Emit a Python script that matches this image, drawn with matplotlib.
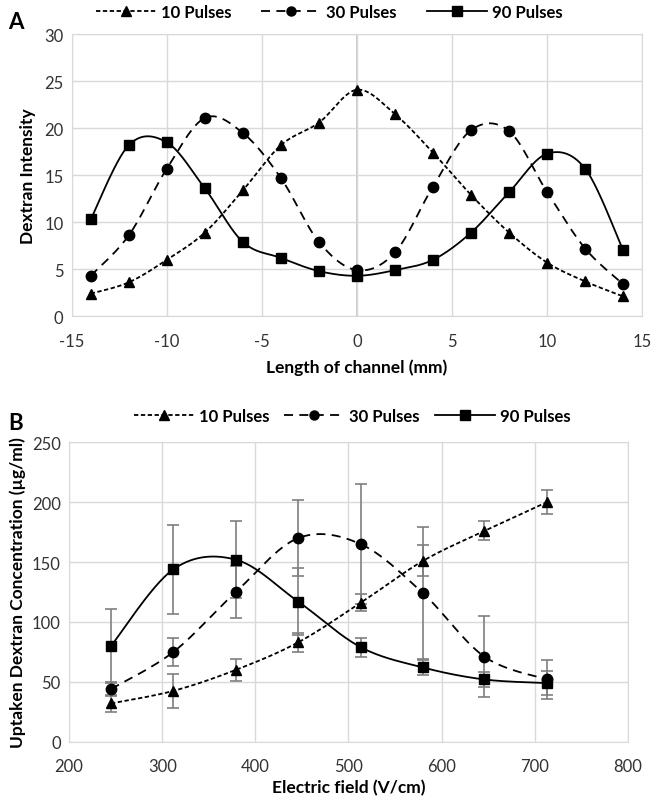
import numpy as np
import matplotlib.pyplot as plt

plt.rcParams['font.family'] = ['Lato', 'DejaVu Sans']
plt.rcParams['axes.unicode_minus'] = False

# Panel A: intensity along the channel
length_mm = [-14, -12, -10, -8, -6, -4, -2, 0, 2, 4, 6, 8, 10, 12, 14]
a_10 = [2.4, 3.6, 6.0, 8.9, 13.4, 18.2, 20.6, 24.1, 21.5, 17.4, 12.9, 8.9, 5.7, 3.7, 2.1]
a_30 = [4.3, 8.6, 15.7, 21.1, 19.5, 14.7, 7.9, 4.9, 6.8, 13.8, 19.8, 19.7, 13.2, 7.2, 3.4]
a_90 = [10.3, 18.2, 18.5, 13.6, 7.9, 6.2, 4.8, 4.3, 4.9, 6.0, 8.9, 13.2, 17.3, 15.7, 7.0]

# Panel B: uptake vs electric field
field = [245, 312, 379, 446, 513, 580, 646, 713]
b_10 = [32, 42.5, 60, 83, 116, 151, 176, 200]
b_10_err = [7, 14, 9, 8, 7, 13, 8, 10]
b_30 = [44, 75, 125, 170, 165, 124, 71, 52]
b_30_err = [6, 12, 22, 32, 50, 55, 34, 16]
b_90 = [80, 144, 152, 117, 79, 62, 52, 49]
b_90_err = [31, 37, 32, 28, 8, 6, 6, 10]

labels = ['10 Pulses', '30 Pulses', '90 Pulses']
markers = ['^', 'o', 's']
dashes = [(2.4, 1.4), (5, 3.5), None]


def smooth(x, y, n=30):
    # excel-like bezier smoothing
    p = np.column_stack([x, y]).astype(float)
    pts = np.vstack([p[0], p, p[-1]])
    out = []
    t = np.linspace(0, 1, n)[:, None]
    for i in range(1, len(pts) - 2):
        p0, p1, p2, p3 = pts[i - 1], pts[i], pts[i + 1], pts[i + 2]
        c1 = p1 + (p2 - p0) / 6
        c2 = p2 - (p3 - p1) / 6
        seg = ((1 - t) ** 3) * p1 + 3 * ((1 - t) ** 2) * t * c1 + 3 * (1 - t) * t ** 2 * c2 + t ** 3 * p2
        out.append(seg)
    out = np.vstack(out)
    return out[:, 0], out[:, 1]


def style_ax(ax):
    ax.grid(True, color='#d9d9d9', linewidth=1)
    ax.set_axisbelow(True)
    for s in ax.spines.values():
        s.set_color('#d9d9d9')
    ax.tick_params(length=0, labelsize=12, colors='#333333', pad=6)
    ax.tick_params(axis='x', pad=12)


def draw_series(ax, x, y, m, d, lab):
    sx, sy = smooth(x, y)
    line, = ax.plot(sx, sy, color='black', lw=1.3)
    if d is not None:
        line.set_dashes(d)
    ax.plot(x, y, linestyle='none', marker=m, color='black', ms=7 if m != 'o' else 7.5)
    # legend proxy
    h, = ax.plot([], [], color='black', lw=1.3, marker=m, ms=6.5, label=lab)
    if d is not None:
        h.set_dashes(d)
    return h


fig = plt.figure(figsize=(6.52, 8.03), dpi=100)

axA = fig.add_axes([0.110, 0.605, 0.875, 0.351])
style_ax(axA)
axA.axvline(0, color='#bfbfbf', lw=1.2, zorder=0.5)
hs = []
for y, m, d, lab in zip([a_10, a_30, a_90], markers, dashes, labels):
    hs.append(draw_series(axA, length_mm, y, m, d, lab))
axA.set_xlim(-15, 15)
axA.set_ylim(0, 30)
axA.set_xticks(range(-15, 16, 5))
axA.set_yticks(range(0, 31, 5))
axA.set_xlabel('Length of channel (mm)', fontsize=12.5, fontweight='bold', labelpad=7)
axA.set_ylabel('Dextran Intensity', fontsize=12.5, fontweight='bold', labelpad=6)
fig.legend(handles=hs, loc='center', bbox_to_anchor=(0.505, 0.984), ncol=3, frameon=False,
           handlelength=3.6, columnspacing=1.8, handletextpad=0.3,
           prop={'weight': 'bold', 'size': 12})
fig.text(0.012, 0.972, 'A', fontsize=16, fontweight='bold', va='center')

axB = fig.add_axes([0.106, 0.075, 0.857, 0.373])
style_ax(axB)
hs = []
for y, e, m, d, lab in zip([b_10, b_30, b_90], [b_10_err, b_30_err, b_90_err],
                           markers, dashes, labels):
    axB.errorbar(field, y, yerr=e, fmt='none', ecolor='#7f7f7f', elinewidth=1.2,
                 capsize=4, capthick=1.2, zorder=1)
    hs.append(draw_series(axB, field, y, m, d, lab))
axB.set_xlim(200, 800)
axB.set_ylim(0, 250)
axB.set_xticks(range(200, 801, 100))
axB.set_yticks(range(0, 251, 50))
axB.set_xlabel('Electric field (V/cm)', fontsize=12.5, fontweight='bold', labelpad=3)
axB.set_ylabel('Uptaken Dextran Concentration (\u00b5g/ml)', fontsize=12.5, fontweight='bold', labelpad=4)
fig.legend(handles=hs, loc='center', bbox_to_anchor=(0.54, 0.481), ncol=3, frameon=False,
           handlelength=3.6, columnspacing=0.9, handletextpad=0.3,
           prop={'weight': 'bold', 'size': 12})
fig.text(0.012, 0.472, 'B', fontsize=16, fontweight='bold', va='center')

fig.savefig('out.png', dpi=100)
